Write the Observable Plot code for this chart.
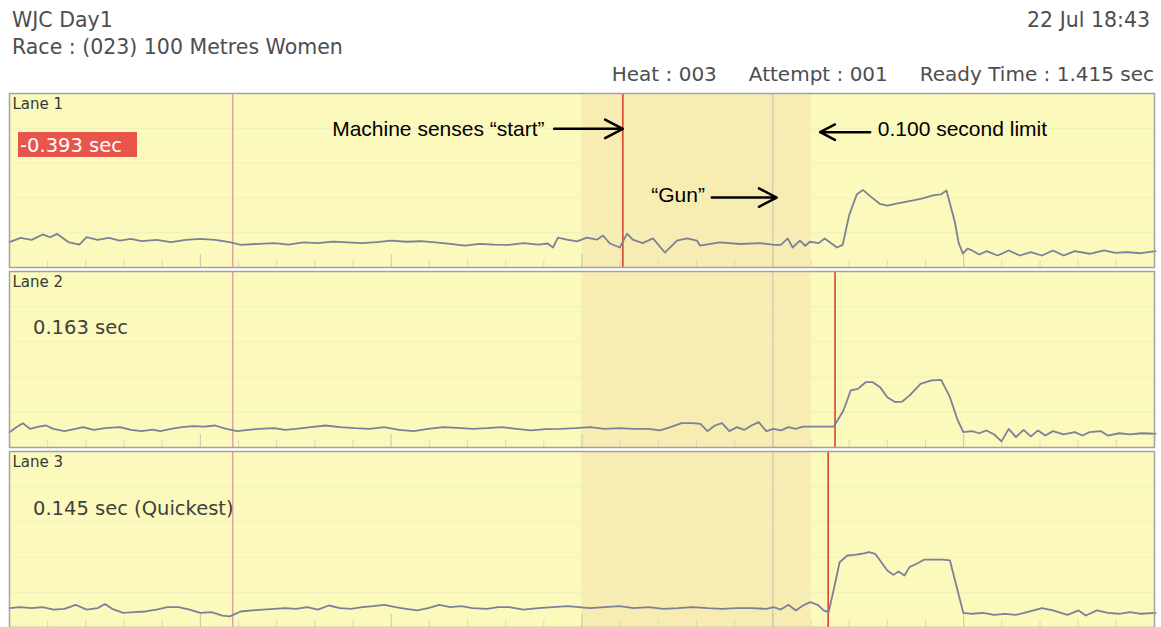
<!DOCTYPE html>
<html>
<head>
<meta charset="utf-8">
<script src="https://cdn.jsdelivr.net/npm/d3@7"></script>
<script src="https://cdn.jsdelivr.net/npm/@observablehq/plot@0.6"></script>
<style>
  html, body { margin: 0; padding: 0; background: #fff; }
  body { width: 1161px; height: 627px; overflow: hidden; position: relative;
         font-family: "DejaVu Sans", sans-serif; color: #4e4e4e; }
  .hdr { position: absolute; font-size: 20.5px; line-height: 20px; white-space: pre; }
  .lane { position: absolute; left: 0; width: 1161px; }
  .lane svg { display: block; position: absolute; left: 0; top: 0; }
  .rt { position: absolute; font-size: 19.5px; line-height: 28px; white-space: pre; color: #3f3f3f; }
  .rt.bad { background: #e9544b; color: #fff; height: 25px; width: 117px; padding-left: 2px; }
</style>
</head>
<body>
<script>
// ---------- data ----------
const headerLeft = ["WJC Day1", "Race : (023) 100 Metres Women"];
const headerDate = "22 Jul 18:43";
const headerInfo = ["Heat : 003", "Attempt : 001", "Ready Time : 1.415 sec"];

const laneNames = ["Lane 1", "Lane 2", "Lane 3"];
const reactionTimes = [-0.393, 0.163, 0.145];          // s relative to gun
const reactionLabels = ["-0.393 sec", "0.163 sec", "0.145 sec (Quickest)"];
const falseStart = [true, false, false];
const readyTime = -1.415;                              // s relative to gun
const gunTime = 0;
const limitTime = 0.100;
const windowStart = -0.5;
const timeDomain = [-2, 1];
const majorTicks = [-1.5, -1, -0.5, 0, 0.5];

// sensor traces: [time (s), signal]
const lane1Trace = [[-2.000,14.6],[-1.971,17.0],[-1.942,15.9],[-1.913,19.0],[-1.894,17.4],[-1.875,19.3],[-1.846,14.6],[-1.817,13.2],[-1.798,17.4],[-1.769,15.9],[-1.740,17.0],[-1.711,15.5],[-1.682,16.5],[-1.654,15.1],[-1.615,15.9],[-1.577,14.6],[-1.538,15.9],[-1.500,16.5],[-1.461,15.9],[-1.423,14.6],[-1.394,13.0],[-1.346,13.6],[-1.307,14.0],[-1.269,13.2],[-1.230,14.4],[-1.192,14.0],[-1.153,14.9],[-1.115,14.4],[-1.076,14.0],[-1.038,14.6],[-0.999,15.5],[-0.961,14.8],[-0.922,15.1],[-0.884,14.4],[-0.845,13.6],[-0.807,12.6],[-0.768,13.6],[-0.730,13.2],[-0.691,13.0],[-0.653,14.0],[-0.614,13.2],[-0.590,13.8],[-0.576,11.5],[-0.563,17.2],[-0.540,16.0],[-0.513,15.0],[-0.487,17.2],[-0.461,16.0],[-0.445,18.4],[-0.427,13.8],[-0.401,11.5],[-0.382,19.5],[-0.367,16.0],[-0.341,14.0],[-0.314,16.7],[-0.283,8.6],[-0.251,15.5],[-0.225,16.7],[-0.199,15.5],[-0.191,12.6],[-0.139,14.4],[-0.086,13.5],[-0.034,14.0],[0.005,13.0],[0.021,13.0],[0.039,16.7],[0.052,11.5],[0.071,15.5],[0.085,12.5],[0.097,14.8],[0.120,14.0],[0.136,16.7],[0.168,11.5],[0.183,13.0],[0.200,30.0],[0.220,42.0],[0.236,44.6],[0.255,41.0],[0.280,36.6],[0.300,35.6],[0.330,37.0],[0.365,38.5],[0.390,39.6],[0.420,41.4],[0.440,42.0],[0.455,44.3],[0.477,26.0],[0.487,14.0],[0.498,8.0],[0.510,10.9],[0.522,9.8],[0.541,7.5],[0.560,9.4],[0.589,6.9],[0.618,9.8],[0.647,6.9],[0.676,8.8],[0.705,6.9],[0.734,9.8],[0.762,6.9],[0.791,9.4],[0.830,7.9],[0.868,9.8],[0.897,8.4],[0.926,8.8],[0.965,8.2],[1.003,9.4]];

const lane2Trace = [[-2.000,8.7],[-1.981,11.6],[-1.965,13.8],[-1.946,10.6],[-1.923,11.9],[-1.904,12.5],[-1.885,10.6],[-1.856,9.3],[-1.827,10.6],[-1.808,11.6],[-1.779,10.0],[-1.750,11.0],[-1.711,11.6],[-1.682,10.0],[-1.654,9.3],[-1.625,10.2],[-1.605,9.3],[-1.577,10.6],[-1.548,11.6],[-1.519,12.1],[-1.490,11.9],[-1.461,12.5],[-1.432,10.6],[-1.403,9.3],[-1.374,10.0],[-1.346,10.6],[-1.307,11.0],[-1.278,10.0],[-1.249,10.6],[-1.211,11.6],[-1.172,12.5],[-1.134,11.6],[-1.095,11.0],[-1.057,10.6],[-1.018,11.6],[-0.980,10.0],[-0.941,9.3],[-0.903,10.6],[-0.864,11.6],[-0.826,11.2],[-0.787,10.6],[-0.749,11.0],[-0.710,11.6],[-0.672,10.6],[-0.633,9.7],[-0.595,10.4],[-0.556,10.6],[-0.518,11.0],[-0.479,11.6],[-0.441,10.6],[-0.402,11.0],[-0.364,10.6],[-0.325,10.6],[-0.296,9.7],[-0.268,11.6],[-0.239,13.8],[-0.210,13.8],[-0.190,13.4],[-0.171,9.3],[-0.152,12.5],[-0.133,13.8],[-0.114,9.3],[-0.094,11.6],[-0.075,10.0],[-0.056,12.5],[-0.037,14.4],[-0.017,9.3],[0.002,10.6],[0.021,9.7],[0.041,11.6],[0.060,10.6],[0.079,11.9],[0.118,11.9],[0.160,11.9],[0.185,21.0],[0.204,32.4],[0.223,33.3],[0.243,37.1],[0.262,37.1],[0.281,34.3],[0.300,28.6],[0.320,25.8],[0.339,26.1],[0.358,29.5],[0.387,36.2],[0.416,38.1],[0.441,38.4],[0.464,28.6],[0.483,16.3],[0.499,8.7],[0.522,9.3],[0.541,8.1],[0.560,9.7],[0.580,7.4],[0.599,3.5],[0.618,10.6],[0.637,5.9],[0.657,10.0],[0.676,6.3],[0.695,9.7],[0.714,6.8],[0.734,9.3],[0.762,7.4],[0.791,8.7],[0.811,6.8],[0.830,8.7],[0.859,9.3],[0.878,6.8],[0.907,8.1],[0.936,7.4],[0.965,8.1],[1.003,7.8]];

const lane3Trace = [[-2.000,11.0],[-1.971,11.6],[-1.942,11.0],[-1.913,11.6],[-1.885,10.2],[-1.856,10.6],[-1.827,12.9],[-1.798,10.2],[-1.769,11.0],[-1.750,13.4],[-1.731,10.6],[-1.702,8.3],[-1.673,8.7],[-1.644,9.1],[-1.615,10.2],[-1.586,11.6],[-1.557,11.6],[-1.528,10.2],[-1.500,8.3],[-1.471,8.7],[-1.442,6.8],[-1.423,6.3],[-1.394,9.1],[-1.365,9.7],[-1.336,10.2],[-1.307,10.6],[-1.278,11.0],[-1.249,10.6],[-1.220,11.6],[-1.192,10.2],[-1.163,12.5],[-1.134,11.0],[-1.105,10.6],[-1.076,11.6],[-1.047,12.1],[-1.018,12.9],[-0.989,11.6],[-0.961,10.6],[-0.932,9.7],[-0.903,11.0],[-0.874,12.9],[-0.845,11.6],[-0.816,12.1],[-0.787,11.0],[-0.749,10.6],[-0.720,11.6],[-0.691,11.6],[-0.653,10.2],[-0.614,11.0],[-0.576,11.6],[-0.537,12.1],[-0.508,11.6],[-0.479,11.0],[-0.441,11.6],[-0.402,12.1],[-0.364,11.0],[-0.325,11.6],[-0.287,10.6],[-0.248,11.0],[-0.210,11.6],[-0.171,11.0],[-0.133,10.6],[-0.094,11.0],[-0.056,11.0],[-0.017,10.6],[0.002,11.6],[0.021,10.2],[0.041,12.9],[0.060,9.7],[0.079,12.5],[0.098,14.4],[0.118,12.9],[0.133,9.7],[0.146,8.7],[0.160,22.0],[0.175,37.1],[0.195,40.9],[0.214,41.3],[0.233,41.9],[0.252,42.8],[0.268,41.9],[0.281,38.1],[0.300,32.4],[0.316,29.9],[0.329,31.8],[0.345,29.5],[0.358,34.3],[0.377,36.2],[0.397,38.6],[0.422,38.6],[0.445,38.6],[0.464,38.1],[0.483,22.0],[0.499,8.3],[0.522,7.8],[0.551,8.3],[0.580,7.2],[0.608,7.8],[0.637,7.2],[0.666,8.7],[0.705,11.0],[0.734,9.7],[0.772,7.2],[0.801,9.7],[0.820,6.8],[0.849,9.7],[0.878,8.3],[0.907,7.8],[0.936,8.7],[0.965,7.8],[1.003,8.3]];

const laneTraces = [lane1Trace, lane2Trace, lane3Trace];

// annotations on lane 1 (anchored to event times)
const annotations = [
  {label: "Machine senses “start”", tail: reactionTimes[0] - 0.18, tip: reactionTimes[0], textAt: reactionTimes[0] - 0.205, textY: 79.7, arrowY: 79.7, anchor: "end"},
  {label: "0.100 second limit", tail: limitTime + 0.155, tip: limitTime + 0.024, textAt: limitTime + 0.175, textY: 79.7, arrowY: 77.8, anchor: "start"},
  {label: "“Gun”", tail: gunTime - 0.16, tip: gunTime + 0.01, textAt: gunTime - 0.178, textY: 41.8, arrowY: 40.2, anchor: "end"}
];

// ---------- styles ----------
const BG = "#fbf9bc";
const BAND = "#f7ecb2";
const TRACE = "#7c8098";
const READY = "#e38d9c";
const RED = "#d9452f";
const GUN = "#c9c0ae";

// ---------- header ----------
function addDiv(cls, text, css) {
  const d = document.createElement("div");
  d.className = cls;
  d.textContent = text;
  Object.assign(d.style, css);
  document.body.appendChild(d);
  return d;
}
addDiv("hdr", headerLeft[0], {left: "12px", top: "10px"});
addDiv("hdr", headerLeft[1], {left: "12px", top: "37px"});
addDiv("hdr", headerDate, {right: "11px", top: "10px"});
{
  const d = addDiv("hdr", "", {right: "7px", top: "64px", fontSize: "20px"});
  headerInfo.forEach((t, i) => {
    const s = document.createElement("span");
    s.textContent = t;
    if (i > 0) s.style.marginLeft = "32px";
    d.appendChild(s);
  });
}

// ---------- lanes ----------
const laneTop = [92, 270, 450];
const laneH = [176, 178, 178];
const labelTop = [40, 44, 45];
const labelLeft = [18, 33, 33];

const minorTicks = d3.range(-19, 10).map(i => i / 10).filter(t => !majorTicks.some(m => Math.abs(m - t) < 1e-9));

laneNames.forEach((name, i) => {
  const wrap = document.createElement("div");
  wrap.className = "lane";
  wrap.style.top = laneTop[i] + "px";
  wrap.style.height = laneH[i] + "px";
  document.body.appendChild(wrap);

  const marks = [
    Plot.frame({fill: BG, stroke: null}),
    Plot.rect([{a: windowStart, b: limitTime}], {x1: "a", x2: "b", y1: 0, y2: 100, fill: BAND}),
    Plot.ruleY([20, 40, 60, 80], {stroke: "#f1eec0", strokeWidth: 1}),
    Plot.ruleX(minorTicks, {y1: 0, y2: 4, stroke: "#dedab8", strokeWidth: 1}),
    Plot.ruleX(majorTicks, {y1: 0, y2: 7.5, stroke: "#cac6ae", strokeWidth: 1}),
    Plot.ruleX([readyTime], {stroke: READY, strokeWidth: 1.2}),
    Plot.ruleX([gunTime], {stroke: GUN, strokeWidth: 1}),
    Plot.ruleX([reactionTimes[i]], {stroke: RED, strokeWidth: 1.6}),
    Plot.line(laneTraces[i], {x: d => d[0], y: d => d[1], stroke: TRACE, strokeWidth: 1.8, strokeLinejoin: "round"}),
    Plot.text([name], {text: d => d, frameAnchor: "top-left", dx: 3, dy: 5, lineAnchor: "top",
      fontSize: 15, fontFamily: "DejaVu Sans", fill: "#383838"}),
    Plot.frame({stroke: "#a2a2a2", strokeWidth: 1.5})
  ];
  if (i === 0) {
    marks.push(
      Plot.arrow(annotations, {x1: "tail", x2: "tip", y1: "arrowY", y2: "arrowY", stroke: "#000",
        strokeWidth: 2.5, headLength: 12, headAngle: 55}),
      Plot.text(annotations.filter(a => a.anchor === "end"), {x: "textAt", y: "textY", text: "label",
        textAnchor: "end", fontSize: 21, fontFamily: "Liberation Sans, Arial, sans-serif", fill: "#000"}),
      Plot.text(annotations.filter(a => a.anchor === "start"), {x: "textAt", y: "textY", text: "label",
        textAnchor: "start", fontSize: 21, fontFamily: "Liberation Sans, Arial, sans-serif", fill: "#000"})
    );
  }

  const svg = Plot.plot({
    width: 1161,
    height: laneH[i],
    marginLeft: 9, marginRight: 7, marginTop: 1, marginBottom: 1,
    x: {domain: timeDomain, axis: null},
    y: {domain: [0, 100], axis: null},
    style: {background: "transparent", overflow: "visible"},
    marks
  });
  wrap.appendChild(svg);

  const lab = document.createElement("div");
  lab.className = "rt" + (falseStart[i] ? " bad" : "");
  lab.textContent = reactionLabels[i];
  lab.style.left = labelLeft[i] + "px";
  lab.style.top = labelTop[i] + "px";
  wrap.appendChild(lab);
});
</script>
</body>
</html>
